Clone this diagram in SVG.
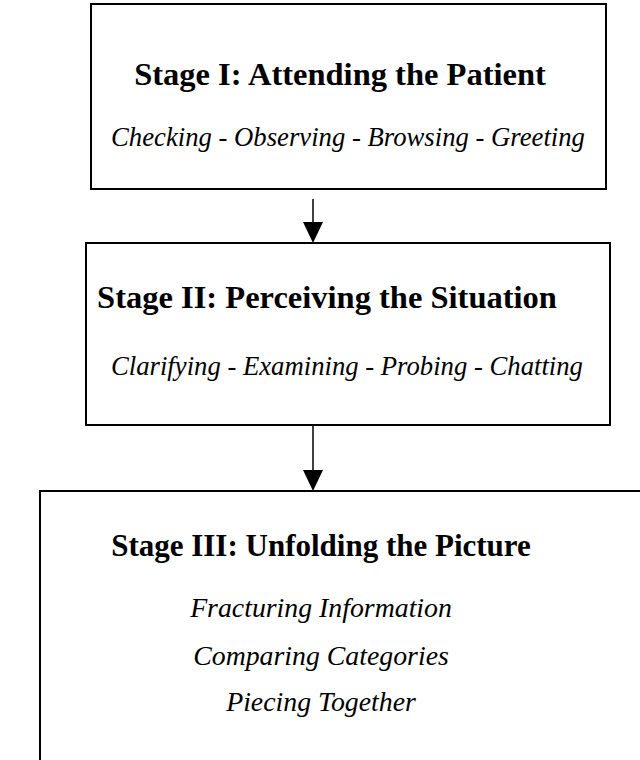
<svg xmlns="http://www.w3.org/2000/svg" width="640" height="760" viewBox="0 0 640 760">
<style>
.box{fill:#fff;stroke:#000;stroke-width:2}
.t{font-family:"Liberation Serif","Times New Roman",serif;font-weight:bold;font-size:32.5px;fill:#000;text-anchor:middle}
.s{font-family:"Liberation Serif","Times New Roman",serif;font-style:italic;font-size:26.7px;fill:#000;text-anchor:middle}
.c{stroke:#000;stroke-width:1.5;fill:none}
</style>
<rect width="640" height="760" fill="#fff"/>
<g id="stage1">
<rect class="box" x="91" y="4" width="515" height="185"/>
<text class="t" x="340" y="85">Stage I: Attending the Patient</text>
<text class="s" x="348" y="146">Checking - Observing - Browsing - Greeting</text>
</g>
<g id="stage2">
<rect class="box" x="86" y="243" width="524" height="182"/>
<text class="t" x="327" y="308">Stage II: Perceiving the Situation</text>
<text class="s" x="347" y="375">Clarifying - Examining - Probing - Chatting</text>
</g>
<g id="stage3">
<rect class="box" x="40" y="491" width="620" height="300"/>
<text class="t" x="321" y="556" style="font-size:31px">Stage III: Unfolding the Picture</text>
<text class="s" x="321" y="617" style="font-size:27.8px">Fracturing Information</text>
<text class="s" x="321" y="665" style="font-size:27.8px">Comparing Categories</text>
<text class="s" x="321" y="711" style="font-size:27.8px">Piecing Together</text>
</g>
<g id="connectors">
<line class="c" x1="313" y1="199" x2="313" y2="224"/>
<path d="M303,222 L323,222 L313,243 Z" fill="#000"/>
<line class="c" x1="313" y1="425" x2="313" y2="472"/>
<path d="M303,470 L323,470 L313,491 Z" fill="#000"/>
</g>
</svg>
